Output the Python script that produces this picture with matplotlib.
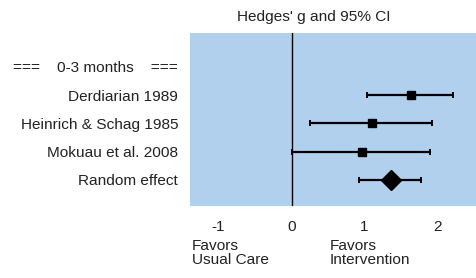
import matplotlib.pyplot as plt

plt.rcParams['font.family'] = ['Liberation Sans', 'DejaVu Sans']
plt.rcParams['text.color'] = '#222222'
plt.rcParams['xtick.labelcolor'] = '#222222'
plt.rcParams['ytick.labelcolor'] = '#222222'

# study rows (top to bottom)
studies = ['Derdiarian 1989', 'Heinrich & Schag 1985', 'Mokuau et al. 2008']
g = [1.63, 1.10, 0.96]
lower = [1.04, 0.26, 0.01]
upper = [2.21, 1.92, 1.90]

# pooled estimate
pooled_label = 'Random effect'
pooled_g = 1.36
pooled_lower = 0.93
pooled_upper = 1.78

header = '===    0-3 months    ==='
xticks = [-1, 0, 1, 2]

fs = 11.1

fig = plt.figure(figsize=(4.77, 2.78), dpi=100)
ax = fig.add_axes([190 / 477, 1 - 206 / 278, 287 / 477, 173 / 278])
ax.set_facecolor('#B0D0EE')

ys = list(range(1, len(studies) + 1))
for y, m, lo, hi in zip(ys, g, lower, upper):
    ax.errorbar(m, y, xerr=[[m - lo], [hi - m]], fmt='s', color='black',
                markersize=6, elinewidth=1.6, capsize=2.5, capthick=1.4)

yp = len(studies) + 1
ax.errorbar(pooled_g, yp, xerr=[[pooled_g - pooled_lower], [pooled_upper - pooled_g]],
            fmt='D', color='black', markersize=10, elinewidth=1.6,
            capsize=2.5, capthick=1.4)

ax.axvline(0, color='black', lw=1)

ax.set_xlim(-1.39, 2.54)
ax.set_ylim(4.92, -1.19)
ax.set_xticks(xticks)
ax.set_xticklabels([str(t) for t in xticks], fontsize=fs)
ax.tick_params(axis='x', length=3, color='white', pad=7)
ax.set_yticks([0] + ys + [yp])
ax.set_yticklabels([header] + studies + [pooled_label], fontsize=fs)
ax.tick_params(axis='y', length=0, pad=8.5)
for s in ax.spines.values():
    s.set_visible(False)

fig.text(314 / 477, 1 - 17 / 278, "Hedges' g and 95% CI", ha='center', va='center', fontsize=fs)
fig.text(192 / 477, 1 - 253 / 278, 'Favors\nUsual Care', ha='left', va='center',
         fontsize=fs, linespacing=0.95)
fig.text(330 / 477, 1 - 253 / 278, 'Favors\nIntervention', ha='left', va='center',
         fontsize=fs, linespacing=0.95)

fig.savefig('out.png', dpi=100)
